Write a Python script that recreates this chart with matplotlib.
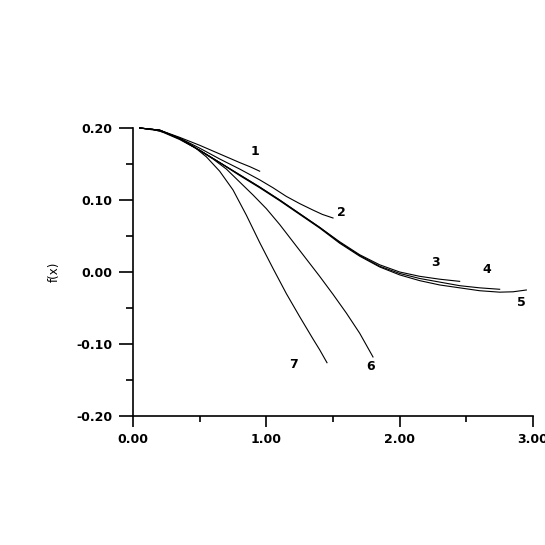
import matplotlib
matplotlib.use("Agg")
import matplotlib.pyplot as plt
from matplotlib.ticker import MultipleLocator, FormatStrFormatter

# curves
x1 = [0.05, 0.20, 0.35, 0.50, 0.65, 0.80, 0.88, 0.95]
y1 = [0.200, 0.197, 0.187, 0.176, 0.164, 0.152, 0.146, 0.140]

x2 = [0.05, 0.20, 0.35, 0.50, 0.65, 0.80, 0.95, 1.05, 1.15, 1.25, 1.35, 1.42, 1.50]
y2 = [0.200, 0.197, 0.186, 0.172, 0.157, 0.143, 0.128, 0.117, 0.105, 0.095, 0.086, 0.080, 0.075]

x3 = [0.05, 0.20, 0.35, 0.50, 0.65, 0.80, 0.95, 1.10, 1.25, 1.40, 1.55, 1.70, 1.85, 2.00, 2.15, 2.30, 2.45]
y3 = [0.200, 0.197, 0.185, 0.169, 0.152, 0.135, 0.118, 0.100, 0.081, 0.062, 0.042, 0.024, 0.010, 0.000, -0.006, -0.010, -0.013]

x4 = [0.05, 0.20, 0.35, 0.50, 0.65, 0.80, 0.95, 1.10, 1.25, 1.40, 1.55, 1.70, 1.85, 2.00, 2.15, 2.30, 2.45, 2.60, 2.75]
y4 = [0.200, 0.197, 0.185, 0.169, 0.152, 0.135, 0.118, 0.100, 0.081, 0.062, 0.041, 0.023, 0.008, -0.002, -0.009, -0.014, -0.019, -0.022, -0.024]

x5 = [0.05, 0.20, 0.35, 0.50, 0.65, 0.80, 0.95, 1.10, 1.25, 1.40, 1.55, 1.70, 1.85, 2.00, 2.15, 2.30, 2.45, 2.60, 2.75, 2.85, 2.95]
y5 = [0.200, 0.197, 0.185, 0.169, 0.152, 0.134, 0.117, 0.099, 0.080, 0.061, 0.040, 0.022, 0.007, -0.004, -0.012, -0.018, -0.022, -0.026, -0.028, -0.0275, -0.025]

x6 = [0.05, 0.20, 0.35, 0.50, 0.60, 0.70, 0.80, 0.90, 1.00, 1.10, 1.20, 1.30, 1.40, 1.50, 1.60, 1.70, 1.80]
y6 = [0.200, 0.196, 0.184, 0.169, 0.157, 0.143, 0.125, 0.107, 0.088, 0.066, 0.042, 0.018, -0.006, -0.031, -0.057, -0.085, -0.118]

x7 = [0.05, 0.15, 0.25, 0.35, 0.45, 0.55, 0.65, 0.75, 0.85, 0.95, 1.05, 1.15, 1.25, 1.35, 1.40, 1.455]
y7 = [0.200, 0.198, 0.193, 0.186, 0.175, 0.160, 0.140, 0.114, 0.079, 0.041, 0.005, -0.030, -0.062, -0.093, -0.108, -0.126]

curves = [(x1, y1), (x2, y2), (x3, y3), (x4, y4), (x5, y5), (x6, y6), (x7, y7)]

labels = ["1", "2", "3", "4", "5", "6", "7"]
label_x = [0.915, 1.56, 2.265, 2.655, 2.91, 1.785, 1.2075]
label_y = [0.167, 0.082, 0.0125, 0.003, -0.042, -0.131, -0.128]

fig = plt.figure(figsize=(5.45, 5.45), dpi=100)
ax = fig.add_axes([133 / 545, 1 - 416 / 545, 400 / 545, 288 / 545])

for xs, ys in curves:
    ax.plot(xs, ys, color="black", linewidth=0.8, clip_on=False)

for t, lx, ly in zip(labels, label_x, label_y):
    ax.text(lx, ly, t, fontsize=9, fontweight="bold", ha="center", va="center",
            family="DejaVu Sans")

ax.set_xlim(0, 3)
ax.set_ylim(-0.2, 0.2)
ax.xaxis.set_major_locator(MultipleLocator(1.0))
ax.xaxis.set_minor_locator(MultipleLocator(0.5))
ax.yaxis.set_major_locator(MultipleLocator(0.1))
ax.yaxis.set_minor_locator(MultipleLocator(0.05))
ax.xaxis.set_major_formatter(FormatStrFormatter("%.2f"))
ax.yaxis.set_major_formatter(FormatStrFormatter("%.2f"))

ax.spines["top"].set_visible(False)
ax.spines["right"].set_visible(False)
ax.spines["left"].set_linewidth(1.2)
ax.spines["bottom"].set_linewidth(1.2)

ax.tick_params(axis="y", which="major", direction="out", length=10, width=1.2, pad=5)
ax.tick_params(axis="y", which="minor", direction="out", length=5, width=1.2)
ax.tick_params(axis="x", which="major", direction="out", length=8, width=1.2, pad=4)
ax.tick_params(axis="x", which="minor", direction="out", length=4, width=1.2)

for lab in ax.get_xticklabels() + ax.get_yticklabels():
    lab.set_fontsize(9)
    lab.set_fontweight("bold")
    lab.set_family("DejaVu Sans")

ax.set_ylabel("f(x)", fontsize=8.5, family="DejaVu Sans")
ax.yaxis.set_label_coords(-0.18, 0.5)

fig.savefig("out.png", dpi=100)
